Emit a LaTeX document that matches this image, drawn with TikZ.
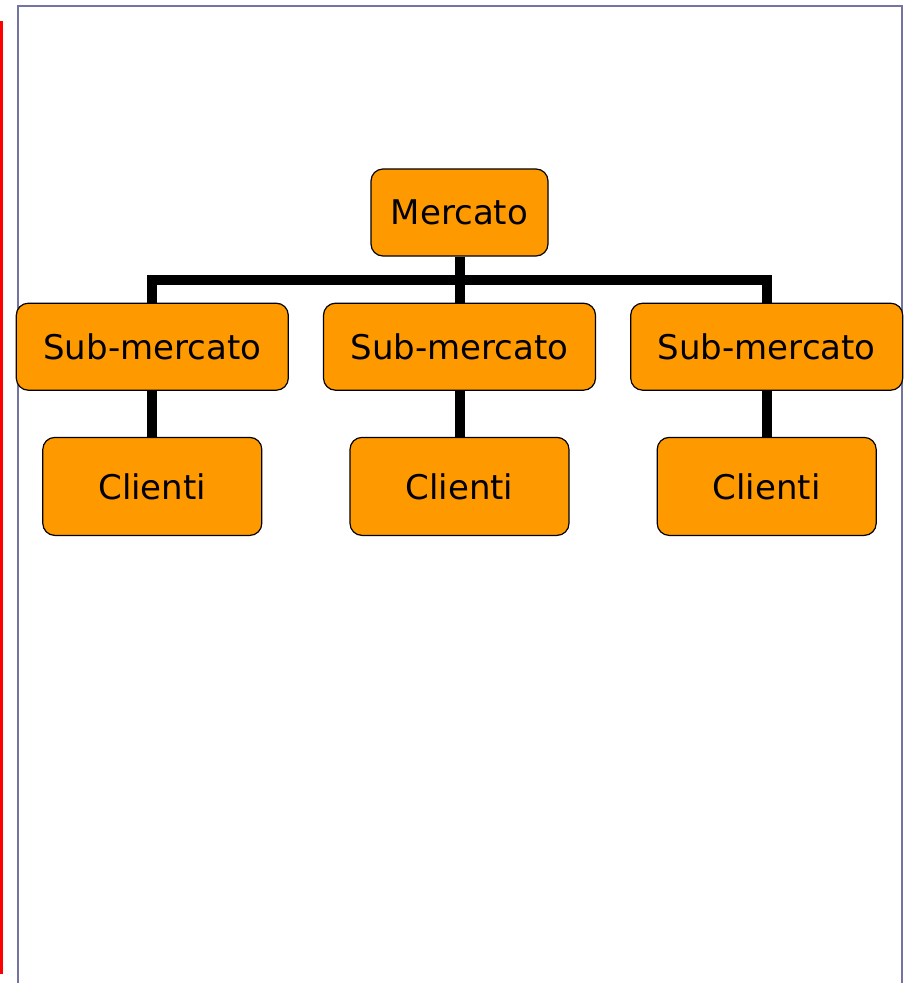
\documentclass[tikz,border=0pt]{standalone}
\usepackage{fontspec}
\setmainfont{DejaVu Sans}
\usetikzlibrary{positioning, calc}

\definecolor{boxorange}{HTML}{FF9900}
\definecolor{framegray}{HTML}{7474A4}

\tikzset{
    box/.style={draw, rounded corners=12pt, fill=boxorange, line width=1.2pt, inner sep=0pt,
        font=\fontsize{34}{40}\selectfont},
    link/.style={line width=10pt, line join=miter}
}

\begin{document}
\begin{tikzpicture}[x=1pt, y=-1pt]
    \useasboundingbox (0,0) rectangle (905,983);
    \draw[red, line width=3pt] (-10,22) -- (1.5,22) -- (1.5,972) -- (-10,972);
    \draw[framegray, line width=2pt] (18,990) -- (18,6) -- (901.5,6) -- (901.5,990);

    \node[box, minimum width=177pt, minimum height=87pt] (m) at (459.5,212.5) {Mercato};
    \node[box, minimum width=272pt, minimum height=87pt, below=46pt of m] (s2) {Sub-mercato};
    \node[box, minimum width=272pt, minimum height=87pt, left=34pt of s2] (s1) {Sub-mercato};
    \node[box, minimum width=272pt, minimum height=87pt, right=34pt of s2] (s3) {Sub-mercato};
    \node[box, minimum width=219pt, minimum height=98pt, below=46pt of s1] (c1) {Clienti};
    \node[box, minimum width=219pt, minimum height=98pt, below=46pt of s2] (c2) {Clienti};
    \node[box, minimum width=219pt, minimum height=98pt, below=46pt of s3] (c3) {Clienti};

    \coordinate (bar) at ($(m.south)!0.5!(s2.north)$);
    \draw[link] (s1.north) |- (bar) -| (s3.north);
    \draw[link] (m.south) -- (s2.north);
    \draw[link] (s1.south) -- (c1.north);
    \draw[link] (s2.south) -- (c2.north);
    \draw[link] (s3.south) -- (c3.north);
\end{tikzpicture}
\end{document}
